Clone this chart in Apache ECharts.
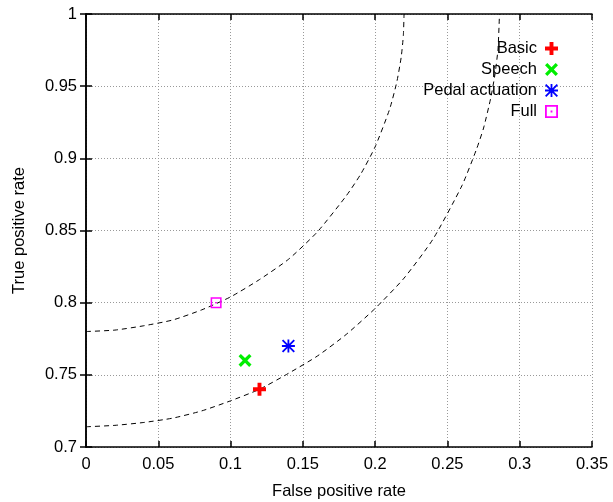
<!DOCTYPE html>
<html>
<head>
<meta charset="utf-8">
<script src="https://cdn.jsdelivr.net/npm/echarts@6/dist/echarts.min.js"></script>
<style>
  html, body { margin: 0; padding: 0; background: #fff; }
  #chart { width: 613px; height: 502px; }
</style>
</head>
<body>
<div id="chart"></div>
<script>
// points (false positive rate, true positive rate)
const seriesNames = ['Basic', 'Speech', 'Pedal actuation', 'Full']
const fprValues = [0.12, 0.11, 0.14, 0.09]
const tprValues = [0.74, 0.76, 0.77, 0.80]
const seriesColors = ['#ff0000', '#00ee00', '#0000ff', '#ff00ff']

// dashed curves
const innerCurveX = [0, 0.02, 0.04, 0.06, 0.08, 0.10, 0.12, 0.14, 0.16, 0.18, 0.19, 0.20, 0.21, 0.215, 0.218, 0.2195, 0.22]
const innerCurveY = [0.780, 0.781, 0.784, 0.788, 0.795, 0.804, 0.816, 0.830, 0.849, 0.874, 0.889, 0.908, 0.934, 0.953, 0.970, 0.985, 1.0]
const outerCurveX = [0, 0.02, 0.04, 0.06, 0.08, 0.10, 0.12, 0.14, 0.16, 0.18, 0.20, 0.22, 0.24, 0.26, 0.27, 0.275, 0.28, 0.283, 0.285, 0.286]
const outerCurveY = [0.714, 0.715, 0.717, 0.720, 0.725, 0.732, 0.740, 0.751, 0.763, 0.778, 0.796, 0.817, 0.844, 0.881, 0.906, 0.921, 0.942, 0.959, 0.976, 1.0]

// 标记形状
const symbols = [
  'path://M3.5,0 H6.5 V3.5 H10 V6.5 H6.5 V10 H3.5 V6.5 H0 V3.5 H3.5 Z',
  'path://M0,1.8 L1.8,0 L5,3.2 L8.2,0 L10,1.8 L6.8,5 L10,8.2 L8.2,10 L5,6.8 L1.8,10 L0,8.2 L3.2,5 Z',
  'path://M4.3,0 H5.7 V10 H4.3 Z M0,4.3 H10 V5.7 H0 Z M0,1 L1,0 L10,9 L9,10 Z M9,0 L10,1 L1,10 L0,9 Z',
  'path://M0,0 H10 V10 H0 Z M1.4,1.4 V8.6 H8.6 V1.4 Z M4.3,4.3 H5.7 V5.7 H4.3 Z'
]
const symbolSizes = [13, 13, 13, 11]

const font = 'Liberation Sans, Arial, sans-serif'
const fontSize = 16.5
const pairs = (xs, ys) => xs.map((x, i) => [x, ys[i]])
const fmt = v => String(+v.toFixed(2))

const chart = echarts.init(document.getElementById('chart'))

const series = seriesNames.map((name, i) => ({
  name: name,
  type: 'scatter',
  symbol: symbols[i],
  symbolSize: symbolSizes[i],
  symbolKeepAspect: true,
  itemStyle: { color: seriesColors[i], opacity: 1 },
  data: [[fprValues[i], tprValues[i]]],
  z: 5
}))
;[pairs(innerCurveX, innerCurveY), pairs(outerCurveX, outerCurveY)].forEach(d => {
  series.push({
    type: 'line',
    data: d,
    symbol: 'none',
    smooth: 0.2,
    lineStyle: { color: '#000', width: 1, type: [5, 4] },
    z: 3
  })
})

const tickStyle = { inside: true, length: 6, lineStyle: { color: '#000', width: 1.5 } }
const lineStyle = { color: '#000', width: 1.5 }
const gridLine = { lineStyle: { color: '#999', type: [1, 2], width: 1 } }
const labelStyle = { fontSize: fontSize, color: '#000', fontFamily: font }

chart.setOption({
  animation: false,
  grid: { left: 86, right: 21, top: 14, bottom: 55, outerBoundsMode: 'none', containLabel: false },
  legend: {
    data: seriesNames,
    orient: 'vertical',
    align: 'right',
    right: 50,
    top: 35,
    itemWidth: 19,
    itemHeight: 13,
    itemGap: 4,
    textStyle: labelStyle
  },
  xAxis: [
    {
      type: 'value', min: 0, max: 0.35, interval: 0.05,
      name: 'False positive rate', nameLocation: 'middle', nameGap: 36,
      nameTextStyle: labelStyle,
      axisLine: { lineStyle: lineStyle },
      axisTick: tickStyle,
      axisLabel: Object.assign({ margin: 9, formatter: fmt }, labelStyle),
      splitLine: gridLine
    },
    {
      type: 'value', min: 0, max: 0.35, interval: 0.05, position: 'top',
      axisLine: { lineStyle: lineStyle },
      axisTick: tickStyle,
      axisLabel: { show: false },
      splitLine: { show: false }
    }
  ],
  yAxis: [
    {
      type: 'value', min: 0.7, max: 1, interval: 0.05,
      name: 'True positive rate', nameLocation: 'middle', nameGap: 58,
      nameTextStyle: labelStyle,
      axisLine: { show: true, lineStyle: lineStyle },
      axisTick: Object.assign({ show: true }, tickStyle),
      axisLabel: Object.assign({ margin: 9, formatter: fmt }, labelStyle),
      splitLine: gridLine
    },
    {
      type: 'value', min: 0.7, max: 1, interval: 0.05, position: 'right',
      axisLine: { show: true, lineStyle: lineStyle },
      axisTick: Object.assign({ show: true }, tickStyle),
      axisLabel: { show: false },
      splitLine: { show: false }
    }
  ],
  series: series
})
</script>
</body>
</html>
